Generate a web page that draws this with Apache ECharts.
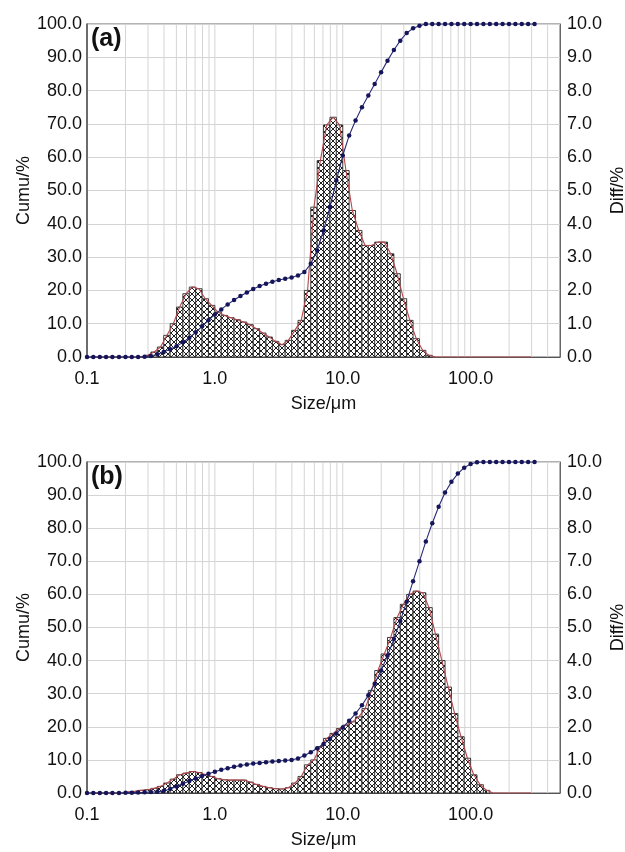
<!DOCTYPE html>
<html>
<head>
<meta charset="utf-8">
<script src="https://cdn.jsdelivr.net/npm/echarts@6/dist/echarts.min.js"></script>
<style>
  html, body { margin: 0; padding: 0; background: #fff; }
  #chart { width: 625px; height: 852px; }
</style>
</head>
<body>
<div id="chart"></div>
<script>
// Size class edges (µm), log-spaced
const sizes = [
  0.100, 0.112, 0.126, 0.141, 0.158, 0.178, 0.200, 0.224, 0.251, 0.282,
  0.316, 0.355, 0.398, 0.447, 0.501, 0.562, 0.631, 0.708, 0.794, 0.891,
  1.000, 1.122, 1.259, 1.413, 1.585, 1.778, 1.995, 2.239, 2.512, 2.818,
  3.162, 3.548, 3.981, 4.467, 5.012, 5.623, 6.310, 7.079, 7.943, 8.913,
  10.00, 11.22, 12.59, 14.13, 15.85, 17.78, 19.95, 22.39, 25.12, 28.18,
  31.62, 35.48, 39.81, 44.67, 50.12, 56.23, 63.10, 70.79, 79.43, 89.13,
  100.0, 112.2, 125.9, 141.3, 158.5, 177.8, 199.5, 223.9, 251.2, 281.8,
  316.2
];

// Sample (a): differential volume % per class
const diffA = [
  0, 0, 0, 0, 0, 0, 0, 0, 0, 0.05,
  0.15, 0.3, 0.65, 1.0, 1.5, 1.9, 2.1, 2.05, 1.75, 1.55,
  1.35, 1.25, 1.18, 1.12, 1.05, 0.97, 0.85, 0.72, 0.6, 0.47,
  0.37, 0.5, 0.8, 1.1, 2.0, 4.5, 5.9, 6.97, 7.2, 6.97,
  5.6, 4.4, 3.8, 3.35, 3.35, 3.45, 3.45, 3.1, 2.5, 1.75,
  1.1, 0.55, 0.2, 0.05, 0, 0, 0, 0, 0, 0,
  0, 0, 0, 0, 0, 0, 0, 0, 0, 0
];
// Sample (a): cumulative volume % undersize
const cumA = [
  0, 0, 0, 0, 0, 0, 0, 0, 0, 0.1,
  0.3, 0.8, 1.5, 2.3, 3.2, 4.4, 5.8, 7.4, 9.2, 11.0,
  12.8, 14.3, 15.8, 17.1, 18.3, 19.4, 20.4, 21.3, 22.0, 22.6,
  23.1, 23.5, 23.9, 24.5, 25.5, 28.0, 32.0, 38.0, 45.0, 53.0,
  60.5, 66.5, 71.0, 75.0, 78.5, 82.0, 85.5, 89.0, 92.2, 95.0,
  97.3, 98.7, 99.5, 100, 100, 100, 100, 100, 100, 100,
  100, 100, 100, 100, 100, 100, 100, 100, 100, 100,
  100
];

// Sample (b): differential volume % per class
const diffB = [
  0, 0, 0, 0, 0, 0, 0.03, 0.05, 0.08, 0.1,
  0.14, 0.2, 0.3, 0.42, 0.55, 0.6, 0.65, 0.62, 0.56, 0.5,
  0.43, 0.4, 0.39, 0.39, 0.39, 0.33, 0.26, 0.2, 0.16, 0.13,
  0.12, 0.16, 0.3, 0.5, 0.85, 1.0, 1.4, 1.65, 1.8, 1.95,
  2.05, 2.15, 2.3, 2.55, 3.1, 3.7, 4.2, 4.7, 5.3, 5.7,
  6.0, 6.1, 6.05, 5.6, 4.8, 4.0, 3.2, 2.4, 1.7, 1.05,
  0.55, 0.25, 0.08, 0, 0, 0, 0, 0, 0, 0
];
// Sample (b): cumulative volume % undersize
const cumB = [
  0, 0, 0, 0, 0, 0, 0.05, 0.1, 0.15, 0.2,
  0.3, 0.4, 0.6, 1.2, 2.0, 2.8, 3.6, 4.4, 5.1, 5.8,
  6.4, 7.0, 7.5, 7.9, 8.3, 8.6, 8.9, 9.1, 9.3, 9.5,
  9.7, 9.8, 10.0, 10.4, 11.3, 12.3, 13.5, 14.8, 16.3, 18.0,
  19.8, 21.8, 24.0, 26.5, 29.5, 33.0, 37.0, 41.5, 46.5, 52.0,
  57.8, 64.0, 70.0, 76.0, 81.5, 86.5, 90.8, 94.0, 96.5, 98.3,
  99.4, 99.9, 100, 100, 100, 100, 100, 100, 100, 100,
  100
];

// Vertical grid lines at 1..9 × each decade
const gridSizes = [
  0.2, 0.3, 0.4, 0.5, 0.6, 0.7, 0.8, 0.9, 1,
  2, 3, 4, 5, 6, 7, 8, 9, 10,
  20, 30, 40, 50, 60, 70, 80, 90, 100,
  200, 300, 400
];
const panelLabels = ['(a)', '(b)'];

const FONT = '"Liberation Sans", Arial, Helvetica, sans-serif';
const GRID_COLOR = '#d4d4d4';

// Cross-hatch tile for the histogram fill
function makeHatch() {
  const c = document.createElement('canvas');
  c.width = 6; c.height = 6;
  const g = c.getContext('2d');
  g.fillStyle = '#ffffff';
  g.fillRect(0, 0, 6, 6);
  g.strokeStyle = '#1e1e1e';
  g.lineWidth = 1;
  g.beginPath();
  g.moveTo(0, 0); g.lineTo(6, 6);
  g.moveTo(6, 0); g.lineTo(0, 6);
  g.stroke();
  return c;
}
const hatch = makeHatch();

const isDecade = v => Math.abs(Math.log10(v) - Math.round(Math.log10(v))) < 1e-6;

function xAxisFor(gi) {
  return {
    gridIndex: gi, type: 'log', logBase: 10, min: 0.1, max: 500,
    name: 'Size/μm', nameLocation: 'middle', nameGap: 38,
    nameTextStyle: { fontFamily: FONT, fontSize: 18, color: '#111' },
    axisLine: { show: true, lineStyle: { color: '#555', width: 1 } },
    axisTick: { show: false },
    splitLine: { show: false },
    minorSplitLine: { show: false },
    axisLabel: {
      fontFamily: FONT, fontSize: 18, color: '#111', margin: 13,
      showMaxLabel: false,
      formatter: v => (isDecade(v) ? Number(v).toFixed(1) : '')
    }
  };
}
function cumAxisFor(gi) {
  return {
    gridIndex: gi, type: 'value', min: 0, max: 100, interval: 10, position: 'left',
    name: 'Cumu/%', nameLocation: 'middle', nameGap: 54, nameRotate: 90, nameMoveOverlap: false,
    nameTextStyle: { fontFamily: FONT, fontSize: 18, color: '#111' },
    axisLine: { show: true, lineStyle: { color: '#555', width: 1.5 } },
    axisTick: { show: false },
    splitLine: { show: true, lineStyle: { color: GRID_COLOR, width: 1 } },
    axisLabel: { fontFamily: FONT, fontSize: 18, color: '#111', margin: 5, formatter: v => v.toFixed(1) }
  };
}
function diffAxisFor(gi) {
  return {
    gridIndex: gi, type: 'value', min: 0, max: 10, interval: 1, position: 'right',
    name: 'Diff/%', nameLocation: 'middle', nameGap: 49, nameRotate: 90, nameMoveOverlap: false,
    nameTextStyle: { fontFamily: FONT, fontSize: 18, color: '#111' },
    axisLine: { show: true, lineStyle: { color: '#666', width: 1 } },
    axisTick: { show: false },
    splitLine: { show: false },
    axisLabel: { fontFamily: FONT, fontSize: 18, color: '#111', margin: 7, formatter: v => v.toFixed(1) }
  };
}

function gridLineSeries(gi) {
  return {
    type: 'custom', xAxisIndex: gi, yAxisIndex: gi * 2, z: 1, silent: true,
    data: gridSizes.map(v => [v, 0]),
    encode: { x: 0, y: 1 },
    renderItem: (params, api) => {
      const a = api.coord([api.value(0), 0]);
      const b = api.coord([api.value(0), 100]);
      return { type: 'line', shape: { x1: a[0], y1: a[1], x2: b[0], y2: b[1] },
               style: { stroke: GRID_COLOR, lineWidth: 1 } };
    }
  };
}
function histSeries(gi, diff) {
  return {
    type: 'custom', xAxisIndex: gi, yAxisIndex: gi * 2 + 1, z: 2, silent: true,
    data: diff.map((d, i) => [sizes[i], sizes[i + 1], d]),
    encode: { x: [0, 1], y: 2 },
    renderItem: (params, api) => {
      const h = api.value(2);
      if (!(h > 0)) return null;
      const p0 = api.coord([api.value(0), h]);
      const p1 = api.coord([api.value(1), 0]);
      return {
        type: 'rect',
        shape: { x: p0[0], y: p0[1], width: p1[0] - p0[0], height: p1[1] - p0[1] },
        style: { fill: { image: hatch, repeat: 'repeat' }, stroke: '#2b2b2b', lineWidth: 0.9 }
      };
    }
  };
}
function envelopeSeries(gi, diff) {
  return {
    type: 'line', xAxisIndex: gi, yAxisIndex: gi * 2 + 1, z: 3, silent: true,
    data: diff.map((d, i) => [Math.sqrt(sizes[i] * sizes[i + 1]), d]),
    showSymbol: false, symbol: 'none',
    lineStyle: { color: '#b4474c', width: 1.1 }
  };
}
function cumSeries(gi, cum) {
  return {
    type: 'line', xAxisIndex: gi, yAxisIndex: gi * 2, z: 4, silent: true,
    data: sizes.map((s, i) => [s, cum[i]]),
    symbol: 'circle', symbolSize: 4.5,
    itemStyle: { color: '#15155a' },
    lineStyle: { color: '#2a2a7a', width: 1.1 }
  };
}

const chart = echarts.init(document.getElementById('chart'), null, { renderer: 'canvas' });
chart.setOption({
  animation: false,
  backgroundColor: '#ffffff',
  grid: [
    { left: 87, top: 24, width: 473, height: 333, show: true, borderColor: '#666', borderWidth: 1,
      outerBoundsMode: 'none', containLabel: false },
    { left: 87, top: 462, width: 473, height: 331, show: true, borderColor: '#666', borderWidth: 1,
      outerBoundsMode: 'none', containLabel: false }
  ],
  xAxis: [xAxisFor(0), xAxisFor(1)],
  yAxis: [cumAxisFor(0), diffAxisFor(0), cumAxisFor(1), diffAxisFor(1)],
  graphic: [
    { type: 'text', left: 91, top: 27, z: 10,
      style: { text: panelLabels[0], font: 'bold 25px ' + FONT, fill: '#111' } },
    { type: 'text', left: 91, top: 465, z: 10,
      style: { text: panelLabels[1], font: 'bold 25px ' + FONT, fill: '#111' } }
  ],
  series: [
    gridLineSeries(0), histSeries(0, diffA), envelopeSeries(0, diffA), cumSeries(0, cumA),
    gridLineSeries(1), histSeries(1, diffB), envelopeSeries(1, diffB), cumSeries(1, cumB)
  ]
});
</script>
</body>
</html>
